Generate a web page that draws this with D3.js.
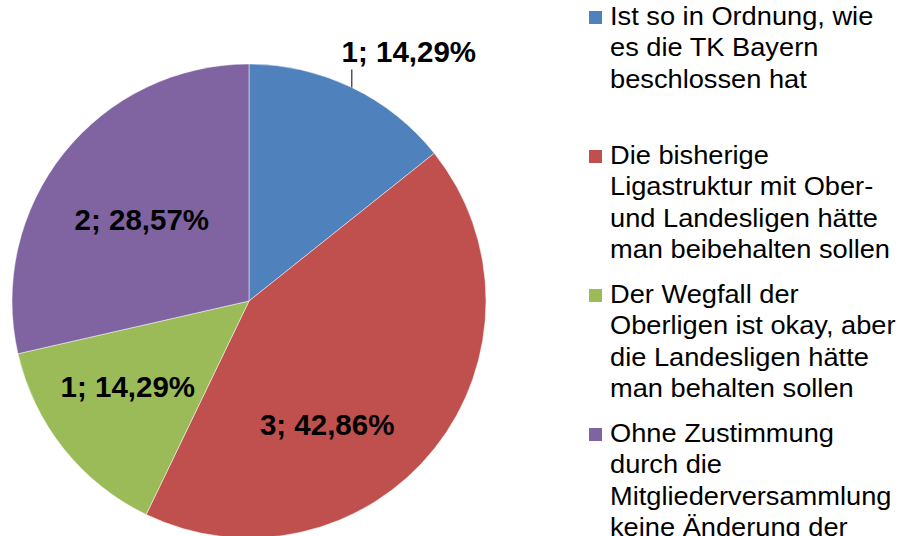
<!DOCTYPE html>
<html>
<head>
<meta charset="utf-8">
<script src="https://cdn.jsdelivr.net/npm/d3@7"></script>
<style>
  body { margin: 0; background: #fff; }
  svg { display: block; font-family: "Liberation Sans", Arial, sans-serif; }
</style>
</head>
<body>
<svg width="914" height="536"></svg>
<script>
var width = 914;
var height = 536;

// data
var categories = [
  "Ist so in Ordnung, wie es die TK Bayern beschlossen hat",
  "Die bisherige Ligastruktur mit Ober- und Landesligen hätte man beibehalten sollen",
  "Der Wegfall der Oberligen ist okay, aber die Landesligen hätte man behalten sollen",
  "Ohne Zustimmung durch die Mitgliederversammlung keine Änderung der Ligastruktur"
];
var counts = [1, 3, 1, 2];
var percentLabels = ["14,29%", "42,86%", "14,29%", "28,57%"];
var colors = ["#4F81BD", "#C0504D", "#9BBB59", "#8064A2"];

// legend text broken into lines like the original
var legendLines = [
  ["Ist so in Ordnung, wie", "es die TK Bayern", "beschlossen hat"],
  ["Die bisherige", "Ligastruktur mit Ober-", "und Landesligen hätte", "man beibehalten sollen"],
  ["Der Wegfall der", "Oberligen ist okay, aber", "die Landesligen hätte", "man behalten sollen"],
  ["Ohne Zustimmung", "durch die", "Mitgliederversammlung", "keine Änderung der"]
];

// layout
var cx = 249, cy = 301, radius = 237;
var labelNudge = [[0, 0], [-33, 35], [-10, -3], [4, 8]];
var legendFirst = 25, legendStep = 139;
var lineHeight = 31.5;

var svg = d3.select('svg');

var pie = d3.pie().sort(null).value(function (d) { return d; });
var arcs = pie(counts);

var arc = d3.arc().innerRadius(0).outerRadius(radius);
var labelArc = d3.arc().innerRadius(radius * 0.6).outerRadius(radius * 0.6);

var g = svg.append('g').attr('transform', 'translate(' + cx + ',' + cy + ')');

g.selectAll('path')
  .data(arcs)
  .enter()
  .append('path')
  .attr('d', arc)
  .attr('fill', function (d, i) { return colors[i]; })
  .attr('stroke', '#fff')
  .attr('stroke-opacity', 0.6)
  .attr('stroke-width', 0.8);

// data labels
g.selectAll('text.lab')
  .data(arcs)
  .enter()
  .append('text')
  .attr('class', 'lab')
  .each(function (d, i) {
    var t = d3.select(this);
    var txt = counts[i] + '; ' + percentLabels[i];
    if (i === 0) {
      // blue slice label sits outside, leader line goes straight up from the rim
      var a = (d.startAngle + d.endAngle) / 2;
      var ex = radius * Math.sin(a);
      var ey = -Math.sqrt(radius * radius - ex * ex);
      g.append('line')
        .attr('x1', ex).attr('y1', ey)
        .attr('x2', ex).attr('y2', ey - 18)
        .attr('stroke', '#000').attr('stroke-width', 1);
      t.attr('x', ex + 57).attr('y', ey - 25);
    } else {
      var c = labelArc.centroid(d);
      t.attr('x', c[0] + labelNudge[i][0]).attr('y', c[1] + labelNudge[i][1] + 10);
    }
    t.attr('text-anchor', 'middle')
      .attr('font-size', 29.5)
      .attr('font-weight', 'bold')
      .attr('fill', '#000')
      .text(txt);
  });

// legend
var legend = svg.append('g');

legendLines.forEach(function (lines, i) {
  var base = legendFirst + i * legendStep;

  legend.append('rect')
    .attr('x', 589)
    .attr('y', base - 14)
    .attr('width', 13)
    .attr('height', 13)
    .attr('fill', colors[i]);

  var t = legend.append('text')
    .attr('transform', 'translate(610,0) scale(1.09,1)')
    .attr('font-size', 25)
    .attr('fill', '#000');

  lines.forEach(function (l, j) {
    t.append('tspan')
      .attr('x', 0)
      .attr('y', base + j * lineHeight)
      .text(l);
  });
});
</script>
</body>
</html>
